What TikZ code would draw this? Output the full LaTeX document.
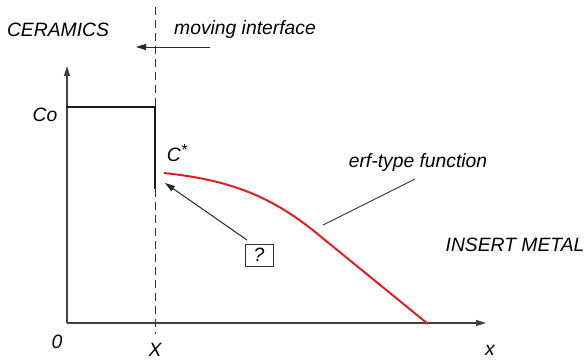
\documentclass[tikz,border=0pt]{standalone}
\usepackage{fontspec}
\setmainfont{Liberation Sans}
\usetikzlibrary{arrows.meta}
\begin{document}
\begin{tikzpicture}[x=1pt,y=-1pt,
  lbl/.style={inner sep=0pt,font=\fontsize{19.3}{21}\selectfont\itshape},
  axisline/.style={draw=black!75,line width=1.2pt,-{Triangle[length=10pt,width=6pt]}},
  thinarrow/.style={draw=black!85,line width=1pt,-{Triangle[length=10pt,width=6pt]}},
  profile/.style={draw=black!90,line width=2.2pt},
  redcurve/.style={draw={rgb,255:red,226;green,30;blue,36},line width=2pt},
  qbox/.style={draw=black!80,line width=0.9pt,minimum width=28pt,minimum height=22pt,inner sep=0pt,font=\fontsize{19.3}{21}\selectfont\itshape}]
\useasboundingbox (0,0) rectangle (587,360);
% coordinates
\coordinate (O) at (67,323);
\coordinate (ytip) at (67,66);
\coordinate (xtip) at (486,323);
\coordinate (dtop) at (155,7);
\coordinate (dbot) at (155,334);
\coordinate (co0) at (67,107);
\coordinate (co1) at (155,107);
\coordinate (cs) at (155,188);
\coordinate (r0) at (164,173);
\coordinate (r1) at (320,236);
\coordinate (r2) at (428,324);
\coordinate (lead0) at (323,225);
\coordinate (lead1) at (415,179);
\coordinate (mi0) at (210,47);
\coordinate (mi1) at (136,47);
\coordinate (qtip) at (165,183);
% dashed interface
\draw[draw=black!80,line width=1pt,dash pattern=on 8pt off 5pt] (dtop) -- (dbot);
% axes
\draw[axisline] (O) -- (ytip);
\draw[axisline] (O) -- (xtip);
% concentration profile
\draw[profile,line cap=rect] (co0) -- (co1) -- (cs);
\draw[redcurve] (r0) .. controls (230,180) and (272,196) .. (r1) -- (r2);
% labels
\node[lbl] (cer) at (58,30) {CERAMICS};
\node[lbl] (mov) at (245,30) {moving interface};
\node[lbl] (co) at (45,115) {Co};
\node[lbl] (cstar) at (177,153) {C\raisebox{0.6ex}{\fontsize{16}{17}\selectfont *}};
\node[lbl] (erf) at (418,163) {erf-type function};
\node[lbl] (ins) at (515,245) {INSERT METAL};
\node[lbl] (zero) at (57,342) {0};
\node[lbl] (bigX) at (155,350) {X};
\node[lbl] (smx) at (490,350) {x};
\node[qbox] (q) at (259,255) {?};
% arrows and leader
\coordinate (qs) at (247,240);
\draw[thinarrow] (mi0) -- (mi1);
\draw[thinarrow] (qs) -- (qtip);
\draw[draw=black!80,line width=0.9pt] (lead0) -- (lead1);
\end{tikzpicture}
\end{document}
